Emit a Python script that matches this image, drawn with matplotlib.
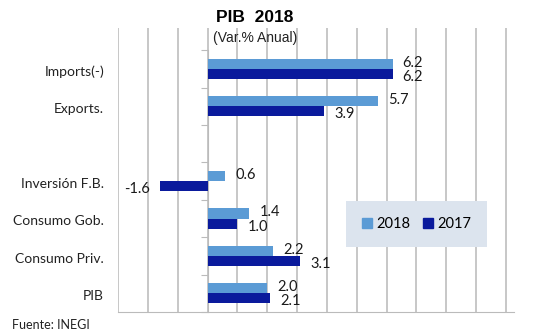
import numpy as np
import matplotlib
matplotlib.use("Agg")
import matplotlib.pyplot as plt
from matplotlib.patches import Patch

# categories from top to bottom ('' is the empty slot in the original chart)
categories = ['Imports(-)', 'Exports.', '', 'Inversión F.B.', 'Consumo Gob.', 'Consumo Priv.', 'PIB']
val_2018 = [6.2, 5.7, None, 0.6, 1.4, 2.2, 2.0]
val_2017 = [6.2, 3.9, None, -1.6, 1.0, 3.1, 2.1]
series_names = ['2018', '2017']

c2018 = '#5B9BD5'
c2017 = '#0A1A9C'

fig = plt.figure(figsize=(5.55, 3.34), dpi=100)
ax = fig.add_axes([118 / 555, 22 / 334, 395.5 / 555, 284 / 334])

n = len(categories)
ypos = np.arange(n)[::-1]  # top category gets highest y
bh = 0.27

for i, y in enumerate(ypos):
    if val_2018[i] is None:
        continue
    ax.barh(y + bh / 2, val_2018[i], height=bh, color=c2018, zorder=3)
    ax.barh(y - bh / 2, val_2017[i], height=bh, color=c2017, zorder=3)
    for v, yy, dy in [(val_2018[i], y + bh / 2, 1), (val_2017[i], y - bh / 2, -3)]:
        ha = 'left' if v >= 0 else 'right'
        dx = 10 if v >= 0 else -10
        ax.annotate(f'{v:.1f}', (v, yy), xytext=(dx, dy), textcoords='offset pixels',
                    ha=ha, va='center', fontsize=10.5, family='Lato', color='#1A1A1A')

ax.set_xlim(-3, 10.25)
ax.set_ylim(-0.5, -0.5 + 284 / 37.4)
ax.set_xticks(np.arange(-3, 11))
ax.tick_params(axis='x', length=0, labelbottom=False)
ax.grid(axis='x', color='#BDBDBD', linewidth=1.2, zorder=0)

# y axis at zero with category boundary ticks
ax.spines['left'].set_position(('data', 0))
ax.spines['left'].set_bounds(-0.5, n - 0.5)
ax.spines['left'].set_color('#BBBBBB')
ax.set_yticks(np.arange(n + 1) - 0.5)
ax.tick_params(axis='y', length=5, color='#BBBBBB', labelleft=False)
for s in ['top', 'right']:
    ax.spines[s].set_visible(False)
ax.spines['bottom'].set_color('#BBBBBB')

for y, lab in zip(ypos, categories):
    ax.text(-0.035, y - 0.08, lab, transform=ax.get_yaxis_transform(), ha='right', va='center',
            fontsize=10, family='Lato', color='#222222')

fig.text(255 / 555, 1 - 17 / 334, 'PIB  2018', ha='center', va='center', fontsize=12.5,
         fontweight='bold', family='Liberation Sans')
fig.text(255 / 555, 1 - 38 / 334, '(Var.% Anual)', ha='center', va='center', fontsize=10,
         family='Liberation Sans', color='#222222')
fig.text(12 / 555, 1 - 325 / 334, 'Fuente: INEGI', ha='left', va='center', fontsize=9,
         family='Lato', color='#222222')

handles = [Patch(color=c2018), Patch(color=c2017)]
leg = ax.legend(handles, series_names, ncol=2, loc='center', bbox_to_anchor=(416.5 / 555, 1 - 224 / 334),
                bbox_transform=fig.transFigure, frameon=True, fancybox=False, handlelength=0.7,
                handleheight=0.7, handletextpad=0.25, columnspacing=0.9, borderpad=1.1,
                prop={'family': 'Lato', 'size': 10.5})
leg.get_frame().set_facecolor('#DCE4EE')
leg.get_frame().set_edgecolor('none')
leg.get_frame().set_alpha(1)
leg.set_zorder(5)

fig.savefig('out.png', dpi=100)
